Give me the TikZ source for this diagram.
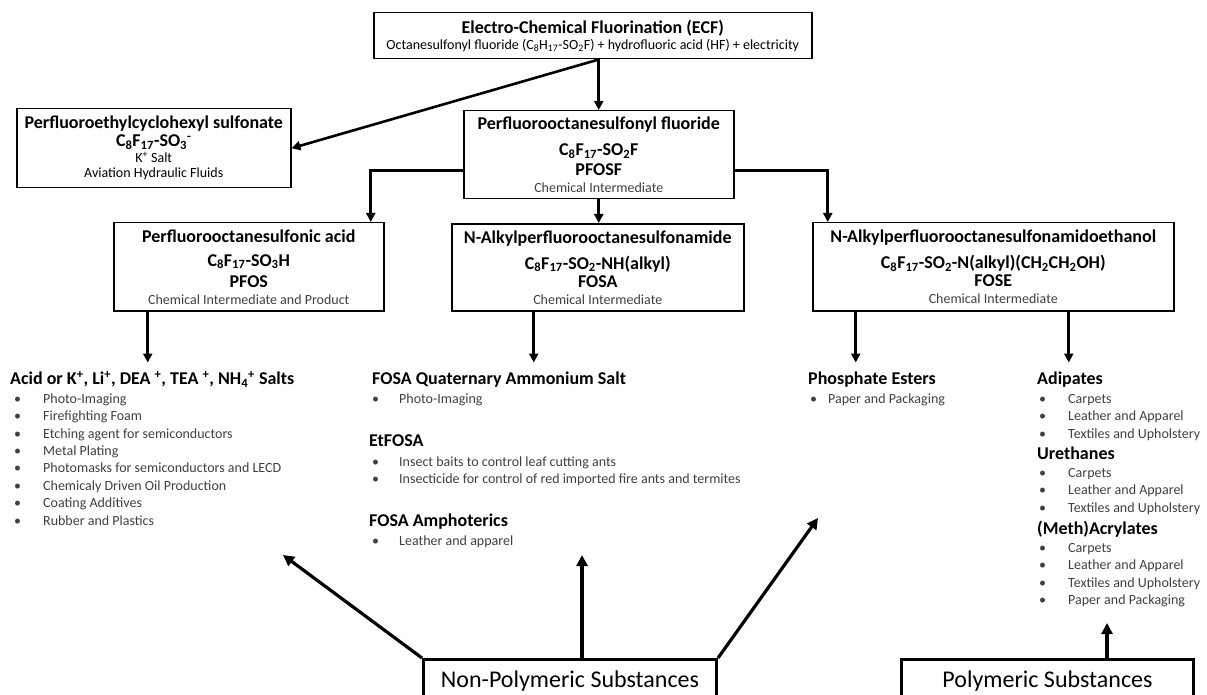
\documentclass[tikz,border=0pt]{standalone}
\usepackage{fontspec}
\setmainfont{Carlito}
\usetikzlibrary{arrows.meta}

\definecolor{notegray}{RGB}{64,64,64}
\newcommand{\cname}[1]{{\bfseries\fontsize{18}{20}\selectfont #1}}
\newcommand{\cnote}[1]{{\color{notegray}#1}}
\newcommand{\boxfont}{\fontsize{14}{17}\selectfont\lineskiplimit=-100pt}

\tikzset{
  chem/.style={draw, line width=1.5pt, anchor=north west, align=center, inner sep=0pt, font=\boxfont},
  classbox/.style={draw, line width=3pt, anchor=north west, inner sep=0pt, font=\fontsize{24}{28}\selectfont},
  feed/.style={line width=2.6pt, -{Triangle[length=9pt,width=9pt]}},
  uses/.style={line width=3.2pt, -{Triangle[length=11pt,width=11pt]}},
  head/.style={anchor=west, inner sep=0pt, outer ysep=9pt, text height=13pt, text depth=4pt, font=\bfseries\fontsize{18}{20}\selectfont},
  uselist/.style={anchor=north west, inner sep=0pt, text=notegray, font=\fontsize{14}{17.4}\selectfont},
}

\begin{document}
\begin{tikzpicture}[x=1pt,y=-1pt]
		\useasboundingbox (0,0) rectangle (1207,695);
		% process
		\node[chem, minimum width=438pt, minimum height=46pt] (ecf) at (373,12)
			{\cname{Electro-Chemical Fluorination (ECF)}\\[-1pt]
			 Octanesulfonyl fluoride (C\textsubscript{8}H\textsubscript{17}-SO\textsubscript{2}F) + hydrofluoric acid (HF) + electricity};
		% first products
		\node[chem, minimum width=274pt, minimum height=79pt] (pfhs) at (16,108)
			{\cname{Perfluoroethylcyclohexyl sulfonate}\\[1pt]
			 \cname{C\textsubscript{8}F\textsubscript{17}-SO\textsubscript{3}\textsuperscript{-}}\\[-1pt]
			 K\textsuperscript{+} Salt\\[-2pt]
			 Aviation Hydraulic Fluids};
		\node[chem, minimum width=270pt, minimum height=88pt] (pfosf) at (463,110)
			{\cname{Perfluorooctanesulfonyl fluoride}\\[9pt]
			 \cname{C\textsubscript{8}F\textsubscript{17}-SO\textsubscript{2}F}\\[3pt]
			 \cname{PFOSF}\\
			 \cnote{Chemical Intermediate}};
		% intermediates
		\node[chem, minimum width=270pt, minimum height=88pt] (pfos) at (113,222)
			{\cname{Perfluorooctanesulfonic acid}\\[7pt]
			 \cname{C\textsubscript{8}F\textsubscript{17}-SO\textsubscript{3}H}\\[4pt]
			 \cname{PFOS}\\
			 \cnote{Chemical Intermediate and Product}};
		\node[chem, minimum width=292pt, minimum height=87pt] (fosa) at (451,223)
			{\cname{N-Alkylperfluorooctanesulfonamide}\\[9pt]
			 \cname{C\textsubscript{8}F\textsubscript{17}-SO\textsubscript{2}-NH(alkyl)}\\[1pt]
			 \cname{FOSA}\\
			 \cnote{Chemical Intermediate}};
		\node[chem, minimum width=361pt, minimum height=88pt] (fose) at (812,222)
			{\cname{N-Alkylperfluorooctanesulfonamidoethanol}\\[9pt]
			 \cname{C\textsubscript{8}F\textsubscript{17}-SO\textsubscript{2}-N(alkyl)(CH\textsubscript{2}CH\textsubscript{2}OH)}\\[1pt]
			 \cname{FOSE}\\
			 \cnote{Chemical Intermediate}};
		% salts
		\node[head] (acidhead) at (10,380)
			{Acid or K\textsuperscript{+}, Li\textsuperscript{+}, DEA \textsuperscript{+}, TEA \textsuperscript{+}, NH\textsubscript{4}\textsuperscript{+} Salts};
		\node[uselist] (acidlist) at (14,391) {\begin{tabular}{@{}p{29pt}@{}l@{}}
			• & Photo-Imaging\\
			• & Firefighting Foam\\
			• & Etching agent for semiconductors\\
			• & Metal Plating\\
			• & Photomasks for semiconductors and LECD\\
			• & Chemicaly Driven Oil Production\\
			• & Coating Additives\\
			• & Rubber and Plastics
		\end{tabular}};
		% fosa uses
		\node[head] (quathead) at (372,380) {FOSA Quaternary Ammonium Salt};
		\node[uselist] (quatlist) at (372,391) {\begin{tabular}{@{}p{27pt}@{}l@{}}
			• & Photo-Imaging
		\end{tabular}};
		\node[head] (ethead) at (369,442) {EtFOSA};
		\node[uselist] (etlist) at (372,454) {\begin{tabular}{@{}p{27pt}@{}l@{}}
			• & Insect baits to control leaf cutting ants\\
			• & Insecticide for control of red imported fire ants and termites
		\end{tabular}};
		\node[head] (amphead) at (369,522) {FOSA Amphoterics};
		\node[uselist] (amplist) at (372,533) {\begin{tabular}{@{}p{27pt}@{}l@{}}
			• & Leather and apparel
		\end{tabular}};
		% fose uses
		\node[head] (phoshead) at (808,380) {Phosphate Esters};
		\node[uselist] (phoslist) at (810,391) {\begin{tabular}{@{}p{18pt}@{}l@{}}
			• & Paper and Packaging
		\end{tabular}};
		\node[head] (adiphead) at (1037,380) {Adipates};
		\node[uselist] (adiplist) at (1039,391) {\begin{tabular}{@{}p{29pt}@{}l@{}}
			• & Carpets\\
			• & Leather and Apparel\\
			• & Textiles and Upholstery
		\end{tabular}};
		\node[head] (urethead) at (1037,455) {Urethanes};
		\node[uselist] (uretlist) at (1039,465) {\begin{tabular}{@{}p{29pt}@{}l@{}}
			• & Carpets\\
			• & Leather and Apparel\\
			• & Textiles and Upholstery
		\end{tabular}};
		\node[head] (acrhead) at (1037,530) {(Meth)Acrylates};
		\node[uselist] (acrlist) at (1039,540) {\begin{tabular}{@{}p{29pt}@{}l@{}}
			• & Carpets\\
			• & Leather and Apparel\\
			• & Textiles and Upholstery\\
			• & Paper and Packaging
		\end{tabular}};
		% substance classes
		\node[classbox, minimum width=293pt, minimum height=44pt] (nonpoly) at (422,658) {Non-Polymeric Substances};
		\node[classbox, minimum width=292pt, minimum height=44pt] (poly) at (900,658) {Polymeric Substances};
		% arrows from ecf
		\draw[feed] (ecf.south -| pfosf.north) -- (pfosf.north);
		\draw[feed] (ecf.south -| pfosf.north) -- (pfhs.east);
		% arrows from pfosf
		\draw[feed] ([yshift=-16pt]pfosf.west) -| ([xshift=122pt]pfos.north);
		\draw[feed] (pfosf.south) -- (pfosf.south |- fosa.north);
		\draw[feed] ([yshift=-16pt]pfosf.east) -| ([xshift=-165.5pt]fose.north);
		% arrows to uses
		\coordinate (pfosout) at ([xshift=-101pt]pfos.south);
		\coordinate (fosaout) at ([xshift=-64pt]fosa.south);
		\coordinate (phosout) at ([xshift=-137.5pt]fose.south);
		\coordinate (adipout) at ([xshift=75.5pt]fose.south);
		\draw[feed] (pfosout) -- (pfosout |- acidhead.north);
		\draw[feed] (fosaout) -- (fosaout |- quathead.north);
		\draw[feed] (phosout) -- (phosout |- phoshead.north);
		\draw[feed] (adipout) -- (adipout |- adiphead.north);
		% arrows from classes
		\coordinate (saltend) at (283,555);
		\coordinate (fosaend) at (582,555);
		\coordinate (esterend) at (818,518);
		\coordinate (polyend) at (1107,623);
		\draw[uses] (nonpoly.north west) -- (saltend);
		\draw[uses] (fosaend |- nonpoly.north) -- (fosaend);
		\draw[uses] (nonpoly.north east) -- (esterend);
		\draw[uses] (polyend |- poly.north) -- (polyend);
		\end{tikzpicture}
\end{document}
